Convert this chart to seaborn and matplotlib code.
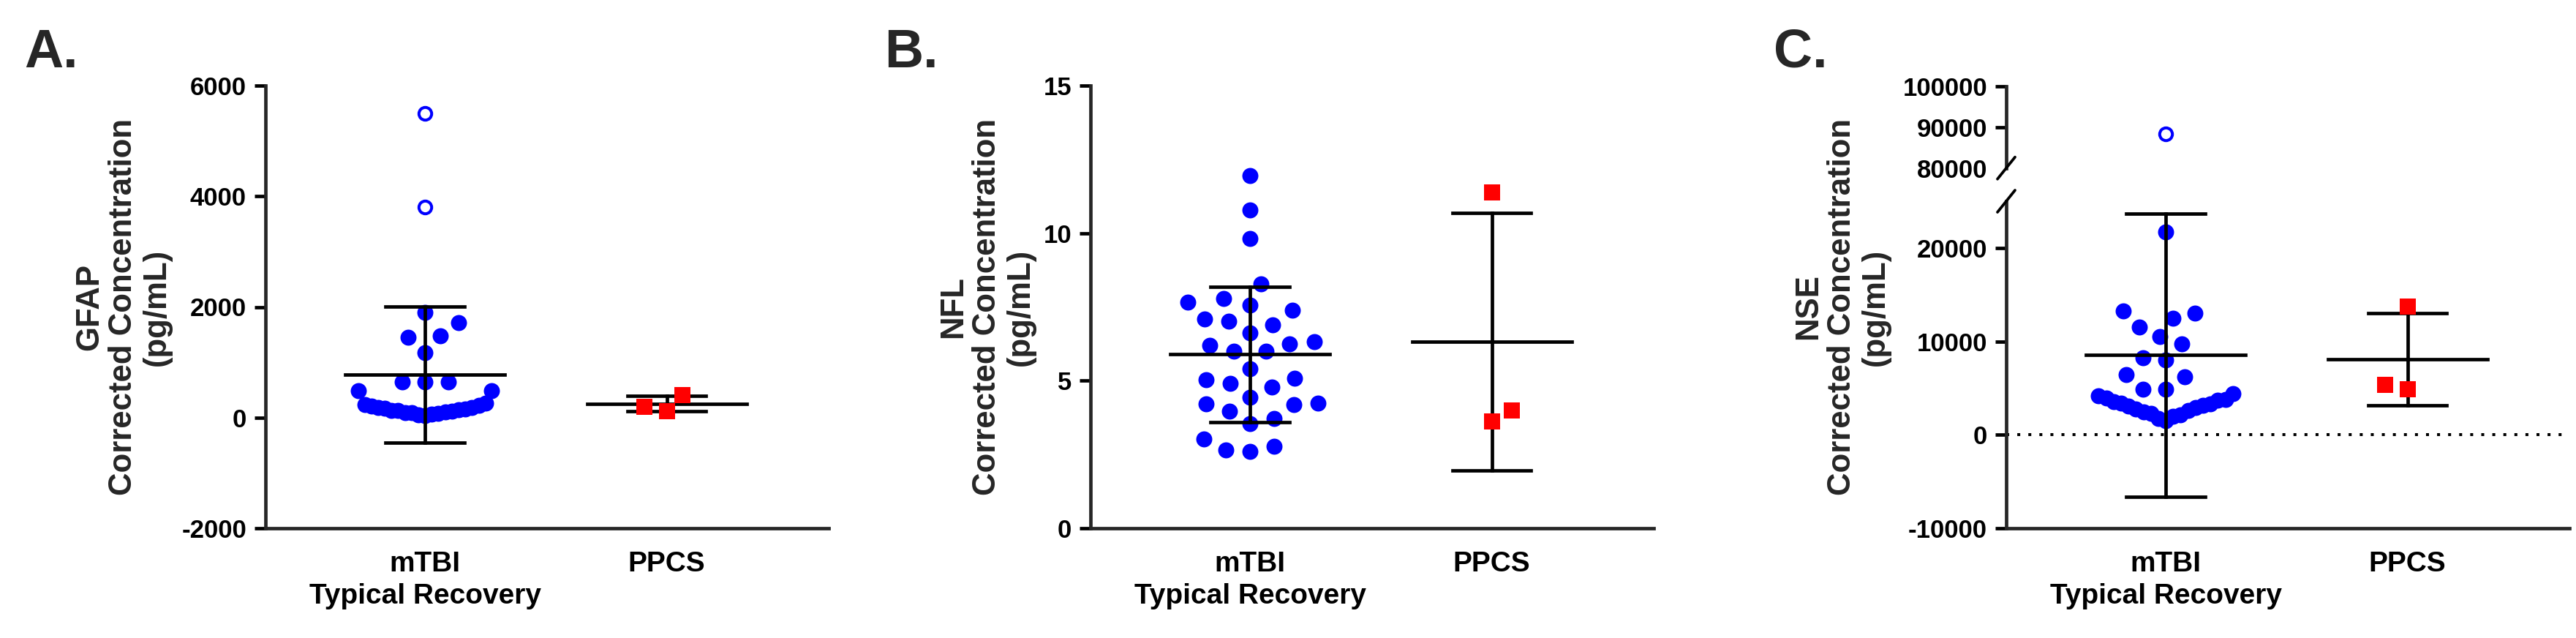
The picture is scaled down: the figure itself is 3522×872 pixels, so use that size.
import numpy as np
import pandas as pd
import matplotlib
matplotlib.use("Agg")
import matplotlib.pyplot as plt
import seaborn as sns

# ---------------- data ----------------
groups = ["mTBI\nTypical Recovery", "PPCS"]

# Panel A: GFAP corrected concentration (pg/mL)
gfap_mtbi_open = [5500, 3800]
gfap_mtbi_high = [1905, 1720, 1474, 1451, 1178, 649, 645, 640]
gfap_mtbi_low = [38, 52, 61, 70, 83, 90, 104, 112, 126, 131, 148, 157,
                 166, 179, 188, 204, 219, 236, 262, 486, 486]
gfap_ppcs = [407, 116, 195]
gfap_mean = [774, 250]
gfap_sd = [1228, 140]
gfap_ticks = [-2000, 0, 2000, 4000, 6000]

# Panel B: NFL corrected concentration (pg/mL)
nfl_mtbi = [11.94, 10.79, 9.83, 8.28, 7.66, 7.79, 7.38, 7.57, 7.02, 7.09,
            6.90, 6.61, 6.24, 6.33, 6.19, 6.00, 6.00, 5.41, 5.03, 4.92,
            5.09, 4.79, 4.44, 4.23, 4.21, 4.19, 3.96, 3.71, 3.54, 3.02,
            2.78, 2.65, 2.60]
nfl_ppcs = [11.37, 3.98, 3.61]
nfl_mean = [5.89, 6.33]
nfl_sd = [2.29, 4.36]
nfl_ticks = [0, 5, 10, 15]

# Panel C: NSE corrected concentration (pg/mL), broken axis
nse_mtbi_open = [88300]
nse_mtbi_high = [21700, 13250, 12990, 12460, 11550, 10500, 9710, 8270,
                 8010, 6480, 6170, 4860, 4860]
nse_mtbi_low = [1500, 1720, 1950, 2130, 2290, 2460, 2620, 2770, 2890, 3040,
                3160, 3290, 3410, 3540, 3680, 3810, 3960, 4140, 4380]
nse_ppcs = [13700, 4900, 5330]
nse_mean = [8530, 8090]
nse_sd = [15150, 4920]
nse_ticks_low = [-10000, 0, 10000, 20000]
nse_ticks_high = [80000, 90000, 100000]

panel_letters = ["A.", "B.", "C."]
ylabels = ["GFAP\nCorrected Concentration\n(pg/mL)",
           "NFL\nCorrected Concentration\n(pg/mL)",
           "NSE\nCorrected Concentration\n(pg/mL)"]

# ---------------- style ----------------
sns.set_style("ticks")
plt.rcParams["font.family"] = ["Liberation Sans", "DejaVu Sans"]
plt.rcParams["font.weight"] = "bold"
plt.rcParams["axes.labelweight"] = "bold"

BLUE = "#0000FF"
RED = "#FF0000"
LW = 3.4
DOT = 15.8        # visible marker diameter (pt)
COLLIDE = 23.0    # spacing used for swarm layout (pt)
XLIM = (-0.66, 1.67)

W, H = 3522, 872
fig = plt.figure(figsize=(W / 100, H / 100), dpi=100)


def fx(px):
    return px / W


def fy(py):
    return 1 - py / H


AX_W = 770 / W
BOT = fy(722)
TOP = fy(117)

frozen = []


def frame(cat, values):
    return pd.DataFrame({"group": pd.Categorical([cat] * len(values), categories=groups),
                         "value": values})


def swarm(ax, values, cat, color, marker, collide, show, z=3):
    before = list(ax.collections)
    sns.swarmplot(data=frame(cat, values), x="group", y="value", order=groups,
                  ax=ax, color=color, marker=marker, size=collide,
                  linewidth=0, warn_thresh=1.0, zorder=z)
    for c in ax.collections:
        if c not in before:
            frozen.append((c, show))


def band(ax, values, cat, collide, squeeze):
    """Crowded low values: seaborn beeswarm computed on a vertically squeezed
    helper axis (same width), giving the overlapping row look of the figure."""
    ylo, yhi = ax.get_ylim()
    pos = ax.get_position()
    hfig = plt.figure(figsize=(W / 100, H / 100), dpi=100)
    hax = hfig.add_axes([pos.x0, pos.y0, pos.width, pos.height])
    sns.swarmplot(data=frame(cat, values), x="group", y="value", order=groups,
                  ax=hax, size=collide, linewidth=0, warn_thresh=1.0)
    hax.set_xlim(*XLIM)
    hax.set_ylim(ylo, ylo + (yhi - ylo) * squeeze)
    hfig.canvas.draw()
    xy = np.asarray(hax.collections[0].get_offsets())
    plt.close(hfig)
    sns.scatterplot(x=xy[:, 0], y=xy[:, 1], ax=ax, color=BLUE, marker="o",
                    s=DOT ** 2, linewidth=0, legend=False, zorder=3)


def open_points(ax, values, cat):
    before = list(ax.collections)
    sns.stripplot(data=frame(cat, values), x="group", y="value", order=groups,
                  ax=ax, jitter=False, color=BLUE, size=12.5, linewidth=2.9,
                  zorder=3)
    for c in ax.collections:
        if c not in before:
            c.set_facecolor("white")
            c.set_edgecolor(BLUE)
            c.set_linewidth(2.9)


def mean_sd(ax, means, sds):
    pos = np.arange(len(groups))
    m = np.asarray(means, float)
    s = np.asarray(sds, float)
    kw = dict(color="black", lw=LW, zorder=4, capstyle="projecting")
    ax.hlines(m, pos - 0.33, pos + 0.33, **kw)
    ax.hlines(m + s, pos - 0.163, pos + 0.163, **kw)
    ax.hlines(m - s, pos - 0.163, pos + 0.163, **kw)
    ax.vlines(pos, m - s, m + s, **kw)


def style(ax, ylim, yticks, show_x=True):
    ax.set_xlim(*XLIM)
    ax.set_ylim(*ylim)
    ax.set_yticks(yticks)
    ax.set_yticklabels([str(t) for t in yticks])
    ax.spines["top"].set_visible(False)
    ax.spines["right"].set_visible(False)
    ax.spines["left"].set_linewidth(LW)
    ax.spines["left"].set_capstyle("projecting")
    ax.tick_params(axis="y", length=10.8, width=LW, pad=8, labelsize=25,
                   color="black", labelcolor="black")
    ax.set_xlabel("")
    ax.set_ylabel("")
    if show_x:
        ax.spines["bottom"].set_linewidth(LW)
        ax.spines["bottom"].set_capstyle("projecting")
        ax.set_xticks(range(len(groups)))
        ax.set_xticklabels(groups, linespacing=1.3)
        ax.tick_params(axis="x", length=0, pad=22, labelsize=28,
                       labelcolor="black")
    else:
        ax.spines["bottom"].set_visible(False)
        ax.set_xticks([])


def ylab(ax, text, x, y=0.5):
    ax.set_ylabel(text, fontsize=31.5, fontweight="bold", linespacing=1.15)
    ax.yaxis.set_label_coords(x, y)


# ---------------- Panel A ----------------
axA = fig.add_axes([fx(363), BOT, AX_W, TOP - BOT])
style(axA, (-2000, 6000), gfap_ticks)
band(axA, gfap_mtbi_low, groups[0], 6.3, 5)
swarm(axA, gfap_mtbi_high, groups[0], BLUE, "o", 21.6, DOT)
open_points(axA, gfap_mtbi_open, groups[0])
swarm(axA, gfap_ppcs, groups[1], RED, "s", 21.6, DOT, z=5)
mean_sd(axA, gfap_mean, gfap_sd)
style(axA, (-2000, 6000), gfap_ticks)
ylab(axA, ylabels[0], -0.166)

# ---------------- Panel B ----------------
axB = fig.add_axes([fx(1491), BOT, AX_W, TOP - BOT])
swarm(axB, nfl_mtbi, groups[0], BLUE, "o", COLLIDE, DOT)
swarm(axB, nfl_ppcs, groups[1], RED, "s", 21.6, DOT, z=5)
mean_sd(axB, nfl_mean, nfl_sd)
style(axB, (0, 15), nfl_ticks)
ylab(axB, ylabels[1], -0.098)

# ---------------- Panel C (broken axis) ----------------
c_low_top = fy(275)
axC = fig.add_axes([fx(2743), BOT, AX_W, c_low_top - BOT])
axC_hi = fig.add_axes([fx(2743), fy(229.7), AX_W, fy(118.3) - fy(229.7)])
style(axC, (-10000, 25000), nse_ticks_low)
axC.axhline(0, color="black", lw=2.9, ls=(0, (1, 2.75)), zorder=1)
band(axC, nse_mtbi_low, groups[0], 7.0, 6)
swarm(axC, nse_mtbi_high, groups[0], BLUE, "o", 21.6, DOT)
swarm(axC, nse_ppcs, groups[1], RED, "s", 21.6, DOT, z=5)
mean_sd(axC, nse_mean, nse_sd)
style(axC, (-10000, 25000), nse_ticks_low)
open_points(axC_hi, nse_mtbi_open, groups[0])
style(axC_hi, (80000, 100000), nse_ticks_high, show_x=False)
# the lowest tick of the upper segment is replaced by the break mark
axC_hi.yaxis.get_major_ticks()[0].tick1line.set_visible(False)
ylab(axC, ylabels[2], -0.206, (722 - 419.5) / (722 - 275))

# break marks on the y axis
for ax, yc in ((axC_hi, 0.0), (axC, 1.0)):
    bb_h = ax.get_position().height * H
    ax.plot([-12 / 770, 12 / 770], [yc - 15 / bb_h, yc + 15 / bb_h],
            transform=ax.transAxes, color="black", lw=LW * 0.8,
            clip_on=False, zorder=5)

# panel letters
for letter, px in zip(panel_letters, (33, 1209, 2425)):
    fig.text(fx(px), fy(38), letter, fontsize=53, fontweight="bold",
             ha="left", va="top",
             family=["Liberation Sans Narrow", "Liberation Sans", "DejaVu Sans"])

# compute swarm layouts, then fix them and apply the visible marker size
fig.canvas.draw()
for coll, show in frozen:
    if "draw" in coll.__dict__:
        del coll.draw
    coll.set_sizes([show ** 2])

fig.savefig("out.png", dpi=100)
